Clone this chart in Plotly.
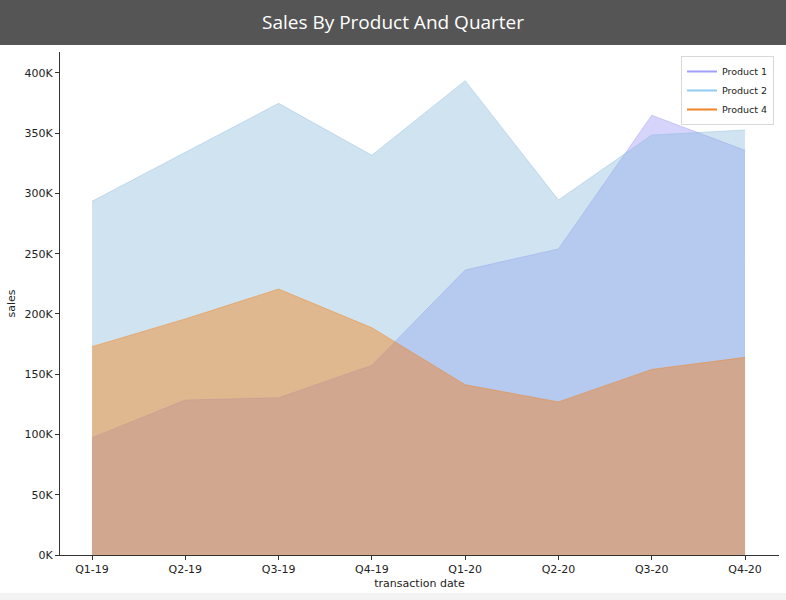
import plotly.graph_objects as go

quarters = ["Q1-19", "Q2-19", "Q3-19", "Q4-19", "Q1-20", "Q2-20", "Q3-20", "Q4-20"]
product1 = [97400, 128600, 130500, 157400, 236500, 254000, 364900, 335800]
product2 = [293500, 334000, 374800, 331700, 393600, 294600, 348500, 352700]
product4 = [172900, 195900, 220700, 188600, 141300, 127000, 154000, 164000]
y_tickvals = [0, 50000, 100000, 150000, 200000, 250000, 300000, 350000, 400000]
y_ticktext = ["0K", "50K", "100K", "150K", "200K", "250K", "300K", "350K", "400K"]

series = [
    ("Product 1", product1, "rgba(152,148,245,0.4)", "rgb(160,160,250)"),
    ("Product 2", product2, "rgba(135,185,220,0.4)", "rgb(142,203,239)"),
    ("Product 4", product4, "rgba(250,120,0,0.4)", "rgb(240,130,40)"),
]

fig = go.Figure()
xs = list(range(len(quarters)))
for name, vals, fillc, linec in series:
    fig.add_trace(go.Scatter(x=xs, y=vals, mode="lines", fill="tozeroy",
                             fillcolor=fillc, line=dict(color=fillc, width=1),
                             showlegend=False, hoverinfo="skip"))
for name, vals, fillc, linec in series:
    fig.add_trace(go.Scatter(x=[None], y=[None], mode="lines", name=name,
                             line=dict(color=linec, width=2)))

L, R, T, B = 60, 7, 52, 45
W, H = 786, 600
pw, ph = W - L - R, H - T - B

fig.update_layout(
    width=W, height=H,
    margin=dict(l=L, r=R, t=T, b=B),
    paper_bgcolor="white", plot_bgcolor="white",
    font=dict(family="DejaVu Sans", size=11, color="#222"),
    showlegend=True,
    legend=dict(x=(774 - L) / pw, y=(H - B - 56) / ph, xanchor="right", yanchor="top",
                bgcolor="white", bordercolor="#d8d8d8", borderwidth=1,
                font=dict(size=9.5, color="#222"), tracegroupgap=0,
                itemwidth=30),
    shapes=[
        dict(type="rect", xref="paper", yref="paper",
             x0=-L / pw, x1=1 + R / pw, y0=1 + (T - 45) / ph, y1=1 + T / ph,
             fillcolor="#555555", line=dict(width=0), layer="above"),
        dict(type="rect", xref="paper", yref="paper",
             x0=-L / pw, x1=1 + R / pw, y0=-B / ph, y1=-(B - 7) / ph,
             fillcolor="#f3f3f3", line=dict(width=0), layer="above"),
    ],
    annotations=[
        dict(text="Sales By Product And Quarter", xref="paper", yref="paper",
             x=(W / 2 - L) / pw, y=1 + (T - 22) / ph, xanchor="center", yanchor="middle",
             showarrow=False, font=dict(family="Open Sans", size=19, color="white")),
    ],
    xaxis=dict(
        tickmode="array", tickvals=xs, ticktext=quarters,
        range=[-0.343, 7.364], showgrid=False, zeroline=False,
        showline=True, linecolor="#333", linewidth=1,
        ticks="outside", ticklen=4, tickcolor="#333",
        title=dict(text="transaction date", font=dict(size=11), standoff=4),
        tickfont=dict(size=11),
    ),
    yaxis=dict(
        tickmode="array", tickvals=y_tickvals, ticktext=y_ticktext,
        range=[0, 417400], showgrid=False, zeroline=False,
        showline=True, linecolor="#333", linewidth=1,
        ticks="outside", ticklen=4, tickcolor="#333",
        title=dict(text="sales", font=dict(size=11), standoff=6),
        tickfont=dict(size=11),
    ),
)

fig.write_html("out.html")
